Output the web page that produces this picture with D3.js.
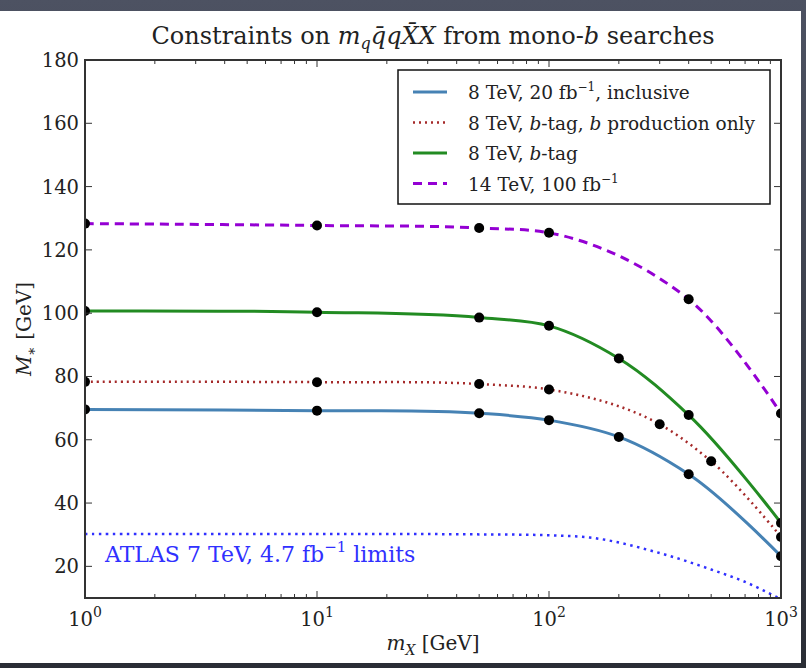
<!DOCTYPE html>
<html>
<head>
<meta charset="utf-8">
<script src="https://cdn.jsdelivr.net/npm/d3@7"></script>
<style>
  body { margin: 0; background: #3b404c; }
  svg text { font-family: 'DejaVu Serif', serif; fill: #222; }
</style>
</head>
<body>
<div id="chart"></div>
<script>
// mass points (GeV) and limits on M_* (GeV)
const inclusive_mx = [1, 10, 50, 100, 200, 400, 1000];
const inclusive_ms = [69.6, 69.2, 68.4, 66.2, 60.9, 49.1, 23.2];

const bprod_mx = [1, 10, 50, 100, 300, 500, 1000];
const bprod_ms = [78.3, 78.2, 77.6, 75.9, 64.9, 53.2, 29.3];

const btag_mx = [1, 10, 50, 100, 200, 400, 1000];
const btag_ms = [100.7, 100.3, 98.6, 96.0, 85.7, 67.8, 33.7];

const tev14_mx = [1, 10, 50, 100, 400, 1000];
const tev14_ms = [128.3, 127.7, 126.9, 125.4, 104.4, 68.3];

// ATLAS 7 TeV curve (no markers)
const atlas_mx = [1, 10, 50, 100, 150, 300, 500, 700, 1000];
const atlas_ms = [30.2, 30.2, 30.1, 29.8, 29.1, 24.2, 19.0, 15.1, 9.6];

const x_tick_powers = [0, 1, 2, 3];
const y_ticks = [20, 40, 60, 80, 100, 120, 140, 160, 180];

const series = [
  {label: "inclusive", mx: inclusive_mx, ms: inclusive_ms, color: "#4682b4", dash: null, width: 3},
  {label: "bprod", mx: bprod_mx, ms: bprod_ms, color: "#a52a2a", dash: "2,4", width: 2.5},
  {label: "btag", mx: btag_mx, ms: btag_ms, color: "#228b22", dash: null, width: 3},
  {label: "tev14", mx: tev14_mx, ms: tev14_ms, color: "#9400d3", dash: "9,6", width: 3}
];

var W = 806, H = 668;
var margin = {top: 60, right: 25, bottom: 70, left: 85},
    width = 781 - margin.left,
    height = 598 - margin.top;

var svg = d3.select("#chart")
  .append("svg")
    .attr("width", W)
    .attr("height", H);

// slide background + white figure panel
var grad = svg.append("defs").append("linearGradient")
  .attr("id", "bg").attr("x1", 0).attr("y1", 0).attr("x2", 0).attr("y2", 1);
grad.append("stop").attr("offset", "0%").attr("stop-color", "#4d5262");
grad.append("stop").attr("offset", "100%").attr("stop-color", "#2a2d35");
svg.append("rect").attr("width", W).attr("height", H).attr("fill", "url(#bg)");
svg.append("rect").attr("x", 0).attr("y", 11).attr("width", 801).attr("height", 652).attr("fill", "#fff");

svg.select("defs").append("clipPath").attr("id", "plotclip")
  .append("rect").attr("width", width).attr("height", height);

var g = svg.append("g")
  .attr("transform", "translate(" + margin.left + "," + margin.top + ")");

var x = d3.scaleLog().domain([1, 1000]).range([0, width]);
var y = d3.scaleLinear().domain([10, 180]).range([height, 0]);

var line = d3.line()
  .x(function(d) { return x(d[0]); })
  .y(function(d) { return y(d[1]); })
  .curve(d3.curveCatmullRom.alpha(1));

var plot = g.append("g").attr("clip-path", "url(#plotclip)");

// ATLAS limit curve
plot.append("path")
  .datum(d3.zip(atlas_mx, atlas_ms))
  .attr("d", line)
  .attr("fill", "none")
  .attr("stroke", "#3030ff")
  .attr("stroke-width", 2.5)
  .attr("stroke-dasharray", "2.5,4.5");

series.forEach(function(s) {
  var pts = d3.zip(s.mx, s.ms);
  plot.append("path")
    .datum(pts)
    .attr("d", line)
    .attr("fill", "none")
    .attr("stroke", s.color)
    .attr("stroke-width", s.width)
    .attr("stroke-dasharray", s.dash);
  plot.selectAll(null)
    .data(pts)
    .enter().append("circle")
      .attr("cx", function(d) { return x(d[0]); })
      .attr("cy", function(d) { return y(d[1]); })
      .attr("r", 5)
      .attr("fill", "#000");
});

// ticks (inward, all four sides)
var minor = [];
x_tick_powers.slice(0, -1).forEach(function(p) {
  for (var k = 2; k <= 9; k++) minor.push(k * Math.pow(10, p));
});
var majors = x_tick_powers.map(function(p) { return Math.pow(10, p); });
var ticks = g.append("g").attr("stroke", "#333").attr("stroke-width", 1);
majors.concat(minor).forEach(function(v) {
  var len = majors.indexOf(v) >= 0 ? 7 : 4;
  ticks.append("line").attr("x1", x(v)).attr("x2", x(v)).attr("y1", height).attr("y2", height - len);
  ticks.append("line").attr("x1", x(v)).attr("x2", x(v)).attr("y1", 0).attr("y2", len);
});
y_ticks.forEach(function(v) {
  ticks.append("line").attr("x1", 0).attr("x2", 7).attr("y1", y(v)).attr("y2", y(v));
  ticks.append("line").attr("x1", width).attr("x2", width - 7).attr("y1", y(v)).attr("y2", y(v));
});

// frame
g.append("rect")
  .attr("width", width).attr("height", height)
  .attr("fill", "none").attr("stroke", "#333").attr("stroke-width", 2);

// tick labels
g.selectAll(".ylab")
  .data(y_ticks)
  .enter().append("text")
    .attr("class", "ylab")
    .attr("x", -6)
    .attr("y", function(d) { return y(d) + 7; })
    .attr("text-anchor", "end")
    .attr("font-size", "19.5px")
    .text(function(d) { return d; });

var xl = g.selectAll(".xlab")
  .data(x_tick_powers)
  .enter().append("text")
    .attr("class", "xlab")
    .attr("x", function(d) { return x(Math.pow(10, d)); })
    .attr("y", height + 28)
    .attr("text-anchor", "middle")
    .attr("font-size", "19.5px");
xl.append("tspan").text("10");
xl.append("tspan").attr("dy", -9).attr("font-size", "14px").text(function(d) { return d; });

// axis titles
var xt = g.append("text")
  .attr("x", width / 2)
  .attr("y", height + 52)
  .attr("text-anchor", "middle")
  .attr("font-size", "20px");
xt.append("tspan").attr("font-style", "italic").text("m");
xt.append("tspan").attr("font-style", "italic").attr("font-size", "14px").attr("dy", 5).text("X");
xt.append("tspan").attr("dy", -5).text(" [GeV]");

var yt = g.append("text")
  .attr("transform", "translate(-54," + (height / 2) + ") rotate(-90)")
  .attr("text-anchor", "middle")
  .attr("font-size", "20px");
yt.append("tspan").attr("font-style", "italic").text("M");
yt.append("tspan").attr("font-size", "14px").attr("dy", 5).text("\u2217");
yt.append("tspan").attr("dy", -5).text(" [GeV]");

// title
var tt = svg.append("text")
  .attr("x", margin.left + width / 2)
  .attr("y", 44)
  .attr("text-anchor", "middle")
  .attr("font-size", "24px");
tt.append("tspan").text("Constraints on ");
tt.append("tspan").attr("font-style", "italic").text("m");
tt.append("tspan").attr("font-style", "italic").attr("font-size", "16px").attr("dy", 5).text("q");
tt.append("tspan").attr("font-style", "italic").attr("dy", -5).text("q\u0304qX\u0304X");
tt.append("tspan").text(" from mono-");
tt.append("tspan").attr("font-style", "italic").text("b");
tt.append("tspan").text(" searches");

// ATLAS label
var at = g.append("text")
  .attr("x", 20)
  .attr("y", 502)
  .attr("font-size", "22px")
  .style("fill", "#3030ff");
at.append("tspan").text("ATLAS 7 TeV, 4.7 fb");
at.append("tspan").attr("dy", -10).attr("font-size", "15px").text("\u22121");
at.append("tspan").attr("dy", 10).text(" limits");

// legend
var leg = g.append("g").attr("transform", "translate(313,10)");
leg.append("rect")
  .attr("width", 372).attr("height", 134)
  .attr("fill", "#fff").attr("stroke", "#111").attr("stroke-width", 1.5);

var legend_rows = [
  [{t: "8 TeV, 20 fb"}, {t: "\u22121", sup: true}, {t: ", inclusive", back: true}],
  [{t: "8 TeV, "}, {t: "b", it: true}, {t: "-tag, "}, {t: "b", it: true}, {t: " production only"}],
  [{t: "8 TeV, "}, {t: "b", it: true}, {t: "-tag"}],
  [{t: "14 TeV, 100 fb"}, {t: "\u22121", sup: true}]
];

series.forEach(function(s, i) {
  var ry = 22 + i * 30.5;
  leg.append("line")
    .attr("x1", 15).attr("x2", 49)
    .attr("y1", ry).attr("y2", ry)
    .attr("stroke", s.color)
    .attr("stroke-width", s.width)
    .attr("stroke-dasharray", s.dash);
  var t = leg.append("text")
    .attr("x", 70).attr("y", ry + 7)
    .attr("font-size", "18.5px");
  legend_rows[i].forEach(function(p) {
    var ts = t.append("tspan").text(p.t);
    if (p.it) ts.attr("font-style", "italic");
    if (p.sup) ts.attr("dy", -8).attr("font-size", "12px");
    if (p.back) ts.attr("dy", 8);
  });
});
</script>
</body>
</html>
